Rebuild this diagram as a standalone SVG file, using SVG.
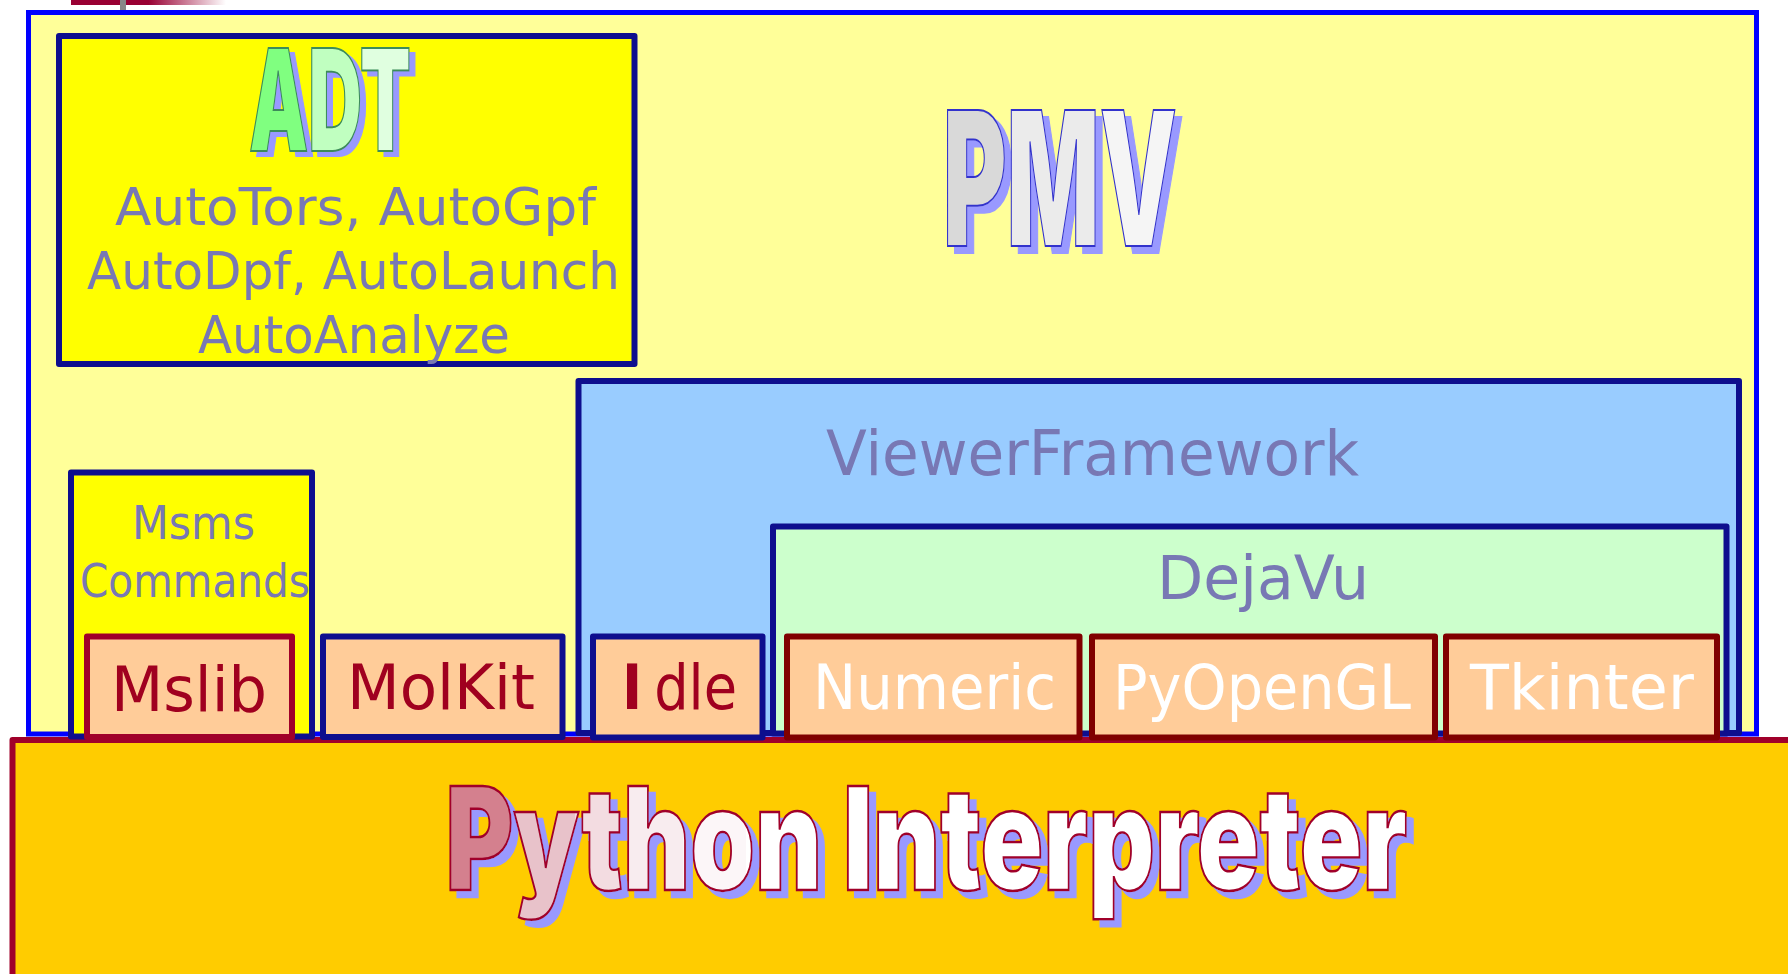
<svg xmlns="http://www.w3.org/2000/svg" width="1788" height="974" viewBox="0 0 1788 974">
  <defs>
    <linearGradient id="barGrad" x1="0" y1="0" x2="1" y2="0">
      <stop offset="0" stop-color="#990033"/>
      <stop offset="0.5" stop-color="#990033"/>
      <stop offset="1" stop-color="#990033" stop-opacity="0"/>
    </linearGradient>
    <linearGradient id="pmvFill" gradientUnits="userSpaceOnUse" x1="943" y1="0" x2="1177" y2="0">
      <stop offset="0" stop-color="#D9D9D9"/>
      <stop offset="0.274" stop-color="#D9D9D9"/>
      <stop offset="0.274" stop-color="#EBEBEB"/>
      <stop offset="0.675" stop-color="#EBEBEB"/>
      <stop offset="0.675" stop-color="#F5F5F5"/>
      <stop offset="1" stop-color="#F5F5F5"/>
    </linearGradient>
    <linearGradient id="adtFill" gradientUnits="userSpaceOnUse" x1="249" y1="0" x2="411" y2="0">
      <stop offset="0" stop-color="#80FF80"/>
      <stop offset="0.355" stop-color="#80FF80"/>
      <stop offset="0.355" stop-color="#C0FFC0"/>
      <stop offset="0.68" stop-color="#C0FFC0"/>
      <stop offset="0.68" stop-color="#E0FFE0"/>
      <stop offset="1" stop-color="#E0FFE0"/>
    </linearGradient>
    <linearGradient id="pyFill" gradientUnits="userSpaceOnUse" x1="445" y1="0" x2="1410" y2="0">
      <stop offset="0" stop-color="#D4808E"/>
      <stop offset="0.072" stop-color="#D4808E"/>
      <stop offset="0.072" stop-color="#E8C2CA"/>
      <stop offset="0.135" stop-color="#E8C2CA"/>
      <stop offset="0.135" stop-color="#F3DCE1"/>
      <stop offset="0.182" stop-color="#F3DCE1"/>
      <stop offset="0.182" stop-color="#F8ECEF"/>
      <stop offset="0.247" stop-color="#F8ECEF"/>
      <stop offset="0.247" stop-color="#FCF6F8"/>
      <stop offset="0.312" stop-color="#FCF6F8"/>
      <stop offset="0.312" stop-color="#FFFFFF"/>
      <stop offset="1" stop-color="#FFFFFF"/>
    </linearGradient>
    <filter id="shadow7" x="-10%" y="-10%" width="130%" height="130%">
      <feFlood flood-color="#9999FF" result="c"/>
      <feComposite in="c" in2="SourceAlpha" operator="in" result="s"/>
      <feOffset in="s" dx="7" dy="7" result="so"/>
      <feMerge><feMergeNode in="so"/><feMergeNode in="SourceGraphic"/></feMerge>
    </filter>
    <filter id="shadow5" x="-10%" y="-10%" width="130%" height="130%">
      <feFlood flood-color="#9999FF" result="c"/>
      <feComposite in="c" in2="SourceAlpha" operator="in" result="s"/>
      <feOffset in="s" dx="6" dy="5" result="so"/>
      <feMerge><feMergeNode in="so"/><feMergeNode in="SourceGraphic"/></feMerge>
    </filter>
    <style>
      .navy { stroke: #0E0E8E; stroke-width: 6; stroke-linejoin: round; }
      .crim { stroke: #A0002A; stroke-width: 6; stroke-linejoin: round; }
      .dred { stroke: #800000; stroke-width: 6; stroke-linejoin: round; }
      .peach { fill: #FFCC99; }
      .lab { font-family: "DejaVu Sans", "Liberation Sans", sans-serif; fill: #7878B4; }
      .boxlab { font-family: "DejaVu Sans", "Liberation Sans", sans-serif; font-size: 63px; }
      .red { fill: #A0001F; }
      .white { fill: #FFFFFF; }
      .big { font-family: Inter, "DejaVu Sans", "Liberation Sans", sans-serif; font-weight: 900; }
    </style>
  </defs>

  <!-- top-left fragment -->
  <rect x="71" y="0" width="155" height="5" fill="url(#barGrad)"/>
  <rect x="120" y="0" width="6" height="10" fill="#888888"/>

  <!-- Python Interpreter base -->
  <g id="python">
    <rect x="12.5" y="740" width="1790" height="250" fill="#FFCC00" class="crim"/>
  </g>

  <!-- PMV outer -->
  <g id="pmv">
    <rect x="28.5" y="12.5" width="1728" height="721.5" fill="#FFFF99" stroke="#0000FF" stroke-width="5"/>
    <text class="big" x="943" y="246" font-size="187" textLength="234" lengthAdjust="spacingAndGlyphs" fill="url(#pmvFill)" stroke="#3333CC" stroke-width="2" filter="url(#shadow7)">PMV</text>
  </g>

  <g id="adt">
    <rect x="59" y="36" width="575.5" height="328" fill="#FFFF00" class="navy"/>
    <text class="big" x="249" y="151" font-size="142" textLength="162" lengthAdjust="spacingAndGlyphs" fill="url(#adtFill)" stroke="#3C8C5A" stroke-width="2" filter="url(#shadow5)">ADT</text>
    <text class="lab" x="115" y="225" font-size="52" textLength="481" lengthAdjust="spacingAndGlyphs">AutoTors, AutoGpf</text>
    <text class="lab" x="87" y="289" font-size="52" textLength="533" lengthAdjust="spacingAndGlyphs">AutoDpf, AutoLaunch</text>
    <text class="lab" x="198" y="353" font-size="52" textLength="312" lengthAdjust="spacingAndGlyphs">AutoAnalyze</text>
  </g>

  <g id="msms">
    <rect x="71" y="472.5" width="241" height="264" fill="#FFFF00" class="navy"/>
    <text class="lab" x="132" y="539" font-size="47" textLength="123" lengthAdjust="spacingAndGlyphs">Msms</text>
    <text class="lab" x="80" y="597" font-size="47" textLength="230" lengthAdjust="spacingAndGlyphs">Commands</text>
  </g>

  <g id="viewerframework">
    <rect x="578.5" y="381" width="1160.5" height="352" fill="#99CCFF" class="navy"/>
    <text class="lab" x="826" y="475" font-size="63" textLength="533" lengthAdjust="spacingAndGlyphs">ViewerFramework</text>
  </g>

  <g id="dejavu">
    <rect x="773" y="526.5" width="953.5" height="207" fill="#CCFFCC" class="navy"/>
    <text class="lab" x="1157" y="599" font-size="61" textLength="212" lengthAdjust="spacingAndGlyphs">DejaVu</text>
  </g>

  <g id="mslib">
    <rect x="87" y="636.5" width="205" height="100.5" class="peach crim"/>
    <text class="boxlab red" x="111" y="711" textLength="156" lengthAdjust="spacingAndGlyphs">Mslib</text>
  </g>

  <g id="molkit">
    <rect x="323" y="636.5" width="239.5" height="100.5" class="peach navy"/>
    <text class="boxlab red" x="347" y="709" textLength="188" lengthAdjust="spacingAndGlyphs">MolKit</text>
  </g>

  <g id="idle">
    <rect x="593" y="636.5" width="169.5" height="101" class="peach navy"/>
    <text class="boxlab red" x="622" y="709" textLength="115" lengthAdjust="spacingAndGlyphs"><tspan font-weight="bold">I</tspan><tspan dx="14">dle</tspan></text>
  </g>

  <g id="numeric">
    <rect x="787" y="636.5" width="292.5" height="101" class="peach dred"/>
    <text class="boxlab white" x="813" y="709" textLength="243" lengthAdjust="spacingAndGlyphs">Numeric</text>
  </g>

  <g id="pyopengl">
    <rect x="1092" y="636.5" width="343" height="101" class="peach dred"/>
    <text class="boxlab white" x="1113" y="709" textLength="298" lengthAdjust="spacingAndGlyphs">PyOpenGL</text>
  </g>

  <g id="tkinter">
    <rect x="1446" y="636.5" width="271" height="101" class="peach dred"/>
    <text class="boxlab white" x="1470" y="709" textLength="224" lengthAdjust="spacingAndGlyphs">Tkinter</text>
  </g>

  <g id="python-label">
    <text class="big" x="445.5" y="890" font-size="143" textLength="962" lengthAdjust="spacingAndGlyphs" fill="url(#pyFill)" stroke="#A0002A" stroke-width="2.5" filter="url(#shadow7)">Python Interpreter</text>
  </g>

  <g id="connectors"></g>
</svg>
